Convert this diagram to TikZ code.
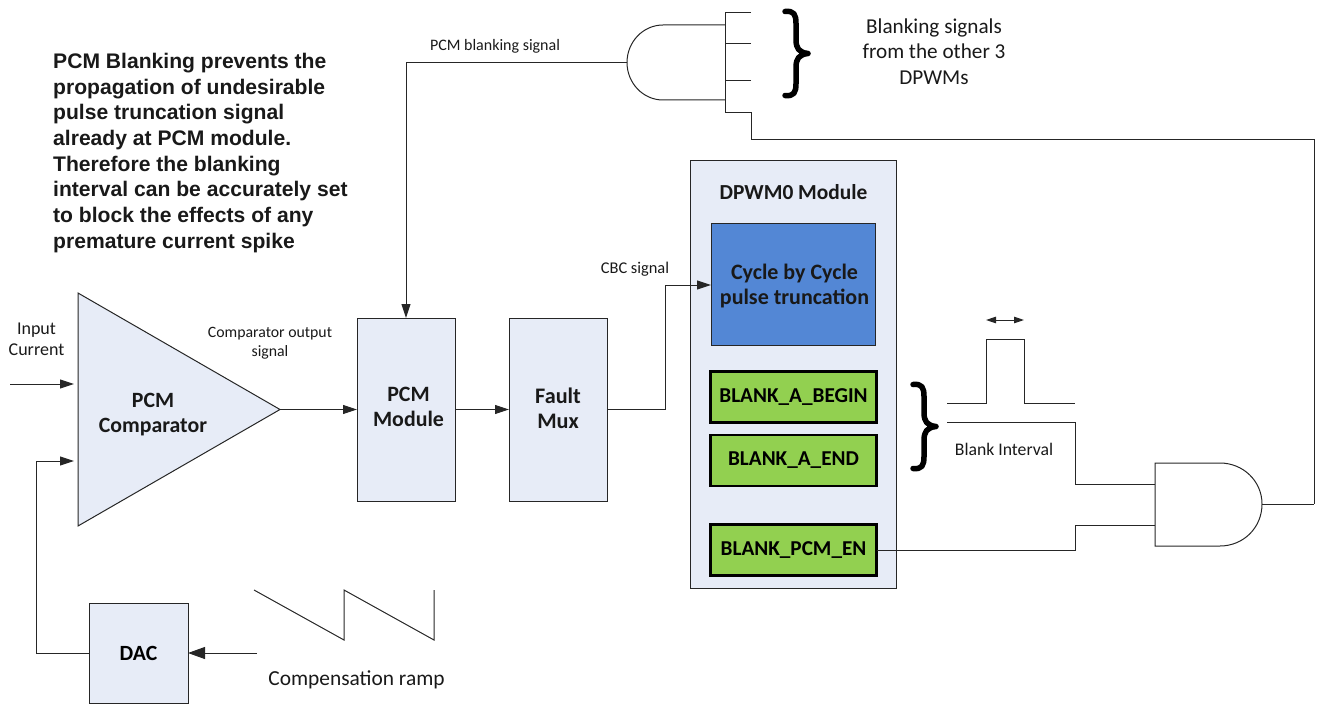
\documentclass[tikz,border=0pt]{standalone}
\usepackage{fontspec}
\setmainfont{Carlito}
\newfontfamily\arialfont{Liberation Sans}
\usetikzlibrary{arrows.meta}
\definecolor{boxfill}{HTML}{E7ECF7}
\definecolor{bluefill}{HTML}{5387D5}
\definecolor{greenfill}{HTML}{92D050}
\definecolor{wire}{HTML}{262626}
\newcommand{\fnt}[2]{\fontsize{#1}{#2}\selectfont}
\tikzset{
  x=1pt,y=-1pt,
  wire/.style={draw=wire,line width=1pt,line join=miter},
  sig/.style={wire,-{Triangle[length=14pt,width=9pt]}},
  lightbox/.style={draw=wire,fill=boxfill,line width=1pt,inner sep=0pt,outer sep=0pt,align=center,font=\fnt{21.7}{25}\bfseries},
  greenbox/.style={draw=black,fill=greenfill,line width=2.2pt,inner sep=0pt,outer sep=0pt,align=center,minimum width=166pt,minimum height=51pt,font=\fnt{21.2}{25}\bfseries},
  txt/.style={inner sep=0pt,align=center,text=black!90},
  small/.style={txt,font=\fnt{16}{19.5}},
  mid/.style={txt,font=\fnt{21}{25.5}},
  bracepath/.style={draw=black,line width=5.5pt,line cap=round,line join=round},
}
\newcommand{\bracket}[2]{%
 \draw[bracepath,shift={(#1,#2)}] (0,0) .. controls (9,-1) and (11,3) .. (11,12)
   -- (11,28) .. controls (11,37) and (14,41) .. (23,42)
   .. controls (14,43) and (11,47) .. (11,56) -- (11,72) .. controls (11,81) and (9,85) .. (0,84);}
\begin{document}
\begin{tikzpicture}
\useasboundingbox (0,0) rectangle (1321,706);

% blocks
\node[lightbox,minimum width=98pt,minimum height=183pt] (pcm) at (406,409.5) {};
\node[lightbox,minimum width=98pt,minimum height=183pt] (mux) at (558,409.5) {};
\node[lightbox,minimum width=206pt,minimum height=428pt] (dpwm) at (793,374) {};
\node[draw=wire,fill=bluefill,line width=1pt,inner sep=0pt,outer sep=0pt,minimum width=164pt,minimum height=122pt] (cbc) at (793,284) {};
\node[greenbox] (begin) at (793.5,397) {BLANK\_A\_BEGIN};
\node[greenbox] (end) at (793.5,460.5) {BLANK\_A\_END};
\node[greenbox] (en) at (793.5,550) {BLANK\_PCM\_EN};
\node[lightbox,minimum width=99pt,minimum height=100pt] (dac) at (138.5,653) {DAC};

% block labels
\node[txt,font=\fnt{21.9}{25}\bfseries] (pcmlab) at (408.5,406.5) {PCM\\Module};
\node[txt,font=\fnt{22.2}{25}\bfseries] (muxlab) at (558,408.5) {Fault\\Mux};
\node[txt,font=\fnt{21.4}{23}\bfseries] (dpwmlab) at (793.5,192.5) {DPWM0 Module};
\node[txt,font=\fnt{22}{25.5}\bfseries] (cbclab) at (794.5,286) {Cycle by Cycle\\pulse truncation};

% comparator
\coordinate (cmpA) at (78,293);
\coordinate (cmpB) at (78,526);
\coordinate (cmpTip) at (280,409.5);
\draw[wire,fill=boxfill] (cmpA) -- (cmpTip) -- (cmpB) -- cycle;
\node[txt,font=\fnt{21.8}{25}\bfseries] (cmplab) at (153,414.5) {PCM\\Comparator};

% top AND gate
\coordinate (gt1) at (725,25);
\coordinate (gt2) at (725,100);
\coordinate (gtOut) at (627,62.5);
\draw[wire] (gt1) -- (663,25) .. controls (643,25) and (627,42) .. (gtOut) .. controls (627,83) and (643,100) .. (663,100) -- (gt2);
\coordinate (barT) at (725,13);
\coordinate (barB) at (725,113);
\coordinate (s1) at (751,13);
\coordinate (s2) at (751,44);
\coordinate (s3) at (751,81);
\draw[wire] (s1) -- (barT) -- (barB) -- (751,113) -- (751,139) -- (1314,139) -- (1314,504);
\draw[wire] (s2) -- (725,44);
\draw[wire] (s3) -- (725,81);

% bottom AND gate
\coordinate (g1) at (1155,463);
\coordinate (g2) at (1155,546);
\coordinate (gOut) at (1262,504);
\draw[wire] (g1) -- (1220,463) .. controls (1243,463) and (1262,481) .. (gOut) .. controls (1262,528) and (1243,546) .. (1220,546) -- (g2) -- cycle;
\draw[wire] (gOut) -- (1314,504);

% connectors
\coordinate (inA) at (10,384);
\coordinate (inAend) at (74,384);
\coordinate (inBend) at (74,461);
\draw[sig] (inA) -- (inAend);
\draw[sig] (dac.west) -- (36,653) -- (36,461) -- (inBend);
\draw[sig] (cmpTip) -- (pcm.west |- cmpTip);
\draw[sig] (gtOut) -- (406,62.5) -- (pcm.north);
\draw[sig] (pcm.east) -- (mux.west);
\draw[sig] (mux.east) -- (665,409.5) -- (665,285) -- (cbc.west |- 0,285);
\coordinate (rampIn) at (257,653);
\draw[wire,-{Triangle[length=17pt,width=12pt]}] (rampIn) -- (dac.east |- rampIn);
\draw[wire] (en.east) -- (1075,550) -- (1075,525) -- (1155,525);
\coordinate (blankA) at (947,422);
\draw[wire] (blankA) -- (1075,422) -- (1075,484) -- (1155,484);

% pulse
\draw[wire] (947,403) -- (986,403) -- (986,339) -- (1024,339) -- (1024,403) -- (1075,403);
\coordinate (wL) at (986,320);
\coordinate (wR) at (1024,320);
\draw[wire,{Triangle[length=10pt,width=6.5pt]}-{Triangle[length=10pt,width=6.5pt]}] (wL) -- (wR);

% ramp
\draw[wire] (254,590) -- (344,640) -- (344,590) -- (434,640) -- (434,590);

% braces
\bracket{785}{11.5}
\bracket{913}{384.5}

% texts
\node[txt,font={\arialfont\fnt{21.1}{25.7}\bfseries},align=left,anchor=north west] (note) at (53,53) {PCM Blanking prevents the\\propagation of undesirable\\pulse truncation signal\\already at PCM module.\\Therefore the blanking\\interval can be accurately set\\to block the effects of any\\premature current spike};
\node[small] (t1) at (495,46) {PCM blanking signal};
\node[small,font=\fnt{16.4}{20}] (t2) at (635,269) {CBC signal};
\node[small,font=\fnt{18}{21}] (t3) at (36.5,339.5) {Input\\Current};
\node[small,font=\fnt{15.8}{19.5}] (t4) at (270,343) {Comparator output\\signal};
\node[mid,font=\fnt{21.2}{25.5}] (t5) at (934,51.5) {Blanking signals\\from the other 3\\DPWMs};
\node[small,font=\fnt{17.7}{20}] (t6) at (1004,449) {Blank Interval};
\node[mid,font=\fnt{21.4}{24}] (t7) at (356.5,680) {Compensation ramp};
\end{tikzpicture}
\end{document}
